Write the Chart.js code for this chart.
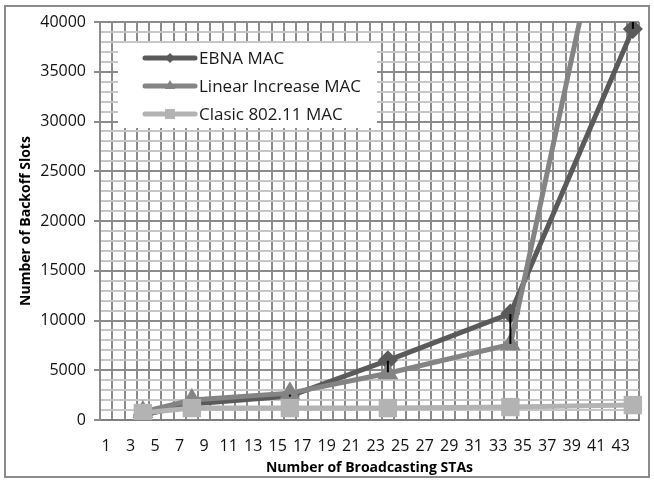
<!DOCTYPE html>
<html>
<head>
<meta charset="utf-8">
<script src="https://cdn.jsdelivr.net/npm/chart.js@4/dist/chart.umd.min.js"></script>
<style>
  html, body { margin: 0; padding: 0; background: #fff; }
  #wrap { width: 654px; height: 480px; position: relative; }
</style>
</head>
<body>
<div id="wrap"><canvas id="backoffChart"></canvas></div>
<script>
// x axis categories (number of broadcasting STAs)
const stations = ['1', '2', '3', '4', '5', '6', '7', '8', '9', '10', '11', '12', '13', '14', '15',
  '16', '17', '18', '19', '20', '21', '22', '23', '24', '25', '26', '27', '28', '29', '30',
  '31', '32', '33', '34', '35', '36', '37', '38', '39', '40', '41', '42', '43', '44'];

// measured points
const samplePoints = ['4', '8', '16', '24', '34', '44'];
const ebnaMac = [500, 1600, 2400, 6000, 10700, 39300];
const linearMac = [800, 2000, 2700, 4700, 7600, 65000];
const clasicMac = [700, 1200, 1200, 1200, 1300, 1500];

// error bars on EBNA
const ebnaErrLow = [null, null, 2350, 4800, 7650, 39300];
const ebnaErrHigh = [null, null, 2550, 5950, 10650, 40700];

const seriesNames = ['EBNA MAC', 'Linear Increase MAC', 'Clasic 802.11 MAC'];
const seriesColors = ['#5a5a5a', '#848484', '#b3b3b3'];
const seriesMarkers = ['rectRot', 'triangle', 'rect'];

const FONT = "'Open Sans', 'DejaVu Sans', sans-serif";

function toPoints(values) {
  return samplePoints.map((x, i) => ({ x: x, y: values[i] }));
}

const framePlugin = {
  id: 'frame',
  afterDraw(chart) {
    const ctx = chart.ctx;
    ctx.save();
    ctx.strokeStyle = '#8c8c8c';
    ctx.lineWidth = 2;
    ctx.strokeRect(5, 6, 644, 471);
    ctx.restore();
  }
};

const errorBarPlugin = {
  id: 'errorBars',
  afterDatasetsDraw(chart) {
    const ctx = chart.ctx;
    const meta = chart.getDatasetMeta(0);
    const yScale = chart.scales.y;
    const area = chart.chartArea;
    ctx.save();
    ctx.beginPath();
    ctx.rect(area.left, area.top, area.right - area.left, area.bottom - area.top);
    ctx.clip();
    ctx.strokeStyle = '#000';
    ctx.lineWidth = 2;
    meta.data.forEach((pt, i) => {
      if (ebnaErrLow[i] == null) return;
      ctx.beginPath();
      ctx.moveTo(pt.x, yScale.getPixelForValue(ebnaErrLow[i]));
      ctx.lineTo(pt.x, yScale.getPixelForValue(ebnaErrHigh[i]));
      ctx.stroke();
    });
    ctx.restore();
  }
};

const legendBoxPlugin = {
  id: 'legendBox',
  afterDraw(chart) {
    const ctx = chart.ctx;
    const left = 118, top = 43, right = 377, bottom = 128;
    ctx.save();
    ctx.fillStyle = '#fff';
    ctx.fillRect(left, top, right - left, bottom - top);
    const rows = [58, 86, 114];
    const markerSize = [5, 6, 7];
    seriesNames.forEach((name, i) => {
      const y = rows[i];
      ctx.strokeStyle = seriesColors[i];
      ctx.lineWidth = 5;
      ctx.lineCap = 'round';
      ctx.beginPath();
      ctx.moveTo(145, y);
      ctx.lineTo(195, y);
      ctx.stroke();
      ctx.fillStyle = seriesColors[i];
      Chart.helpers.drawPoint(ctx, {
        pointStyle: seriesMarkers[i],
        radius: markerSize[i],
        borderWidth: 0
      }, 170, y);
      ctx.fillStyle = '#1a1a1a';
      ctx.font = '17px ' + FONT;
      ctx.textBaseline = 'middle';
      ctx.fillText(name, 199, y + 1);
    });
    ctx.restore();
  }
};

const datasets = [ebnaMac, linearMac, clasicMac].map((values, i) => ({
  label: seriesNames[i],
  data: toPoints(values),
  borderColor: seriesColors[i],
  backgroundColor: seriesColors[i],
  borderWidth: 5,
  pointStyle: seriesMarkers[i],
  pointRadius: [10, 12, 13][i],
  pointBorderWidth: 0,
  tension: 0,
  order: 3 - i
}));

new Chart(document.getElementById('backoffChart'), {
  type: 'line',
  data: { labels: stations, datasets: datasets },
  options: {
    responsive: true,
    maintainAspectRatio: false,
    animation: false,
    layout: { padding: { left: 14, top: 22, right: 15, bottom: 4 } },
    plugins: {
      legend: { display: false },
      tooltip: { enabled: false }
    },
    scales: {
      x: {
        type: 'category',
        offset: true,
        grid: { offset: true, color: '#8c8c8c', lineWidth: 2, drawTicks: false },
        border: { color: '#808080', width: 2 },
        ticks: {
          autoSkip: false,
          maxRotation: 0,
          padding: 17,
          color: '#111',
          font: { family: FONT, size: 16 },
          callback: (v, i) => (i % 2 === 0 ? stations[i] : '')
        },
        title: {
          display: true,
          text: 'Number of Broadcasting STAs',
          color: '#000',
          font: { family: FONT, size: 14, weight: 'bold' },
          padding: { top: 2, bottom: 0 }
        },
        afterFit: (scale) => { scale.height = 56; }
      },
      y: {
        min: 0,
        max: 40000,
        grid: {
          color: (c) => (c.tick.value % 5000 === 0 ? '#8c8c8c' : '#c6c6c6'),
          tickColor: (c) => (c.tick.value % 5000 === 0 ? '#8c8c8c' : 'rgba(0,0,0,0)'),
          lineWidth: 2,
          tickLength: 6
        },
        border: { color: '#8c8c8c', width: 2 },
        ticks: {
          stepSize: 1000,
          autoSkip: false,
          padding: 8,
          color: '#111',
          font: { family: FONT, size: 16 },
          callback: (v) => (v % 5000 === 0 ? String(v) : '')
        },
        title: {
          display: true,
          text: 'Number of Backoff Slots',
          color: '#000',
          font: { family: FONT, size: 14, weight: 'bold' },
          padding: { top: 4, bottom: 4 }
        },
        afterFit: (scale) => { scale.width = 86; }
      }
    }
  },
  plugins: [errorBarPlugin, legendBoxPlugin, framePlugin]
});
</script>
</body>
</html>
